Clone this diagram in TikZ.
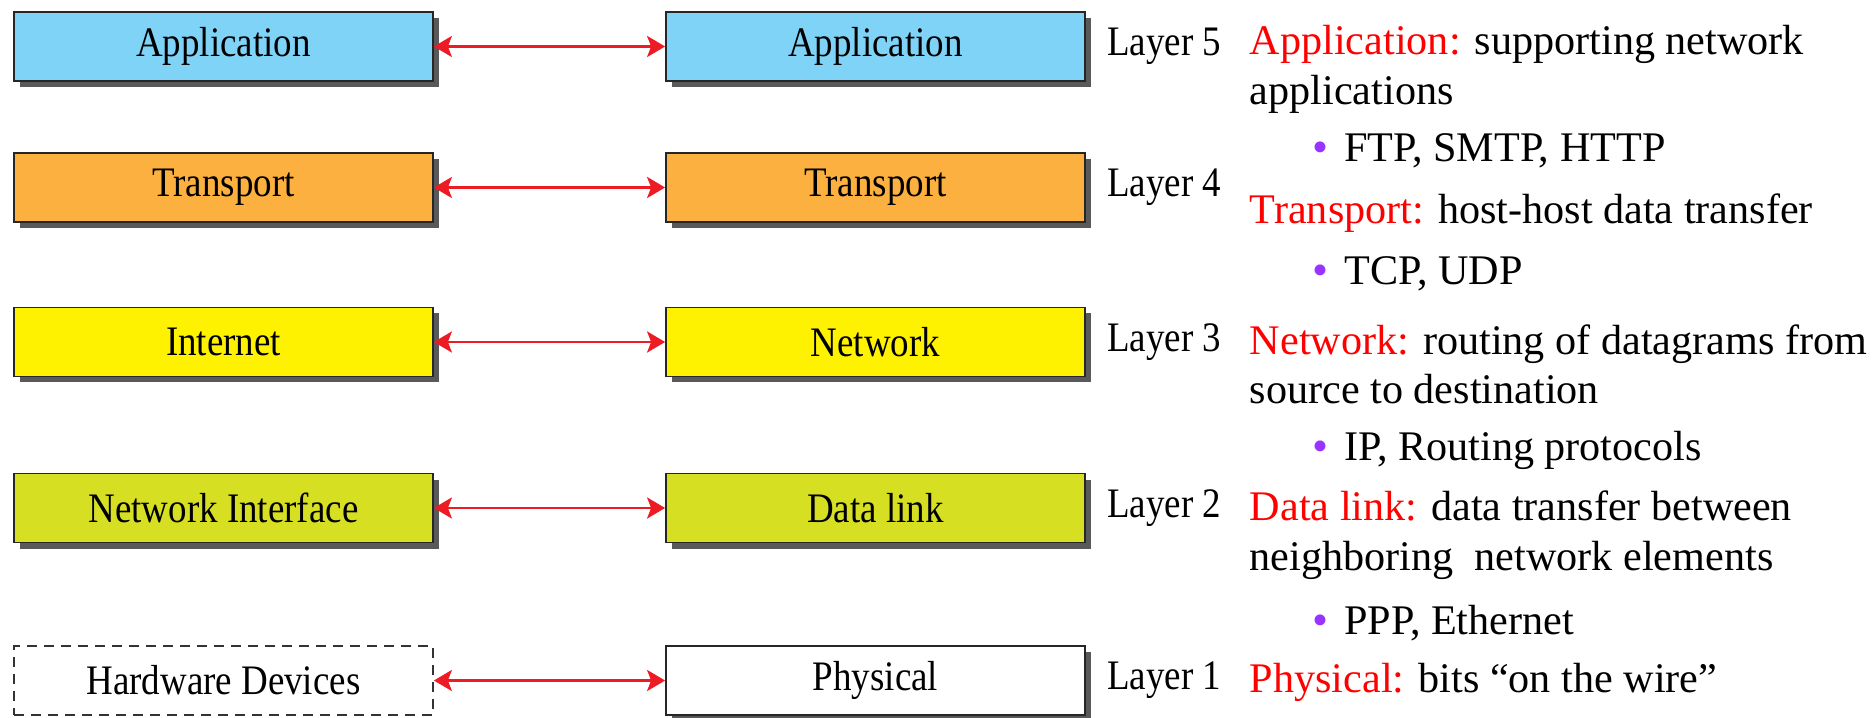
\documentclass[tikz,border=0pt]{standalone}
\usepackage{fontspec}
\setmainfont{Liberation Serif}
\newfontfamily\narrowserif[FakeStretch=0.88]{Liberation Serif}
\usepackage{tikz}
\usetikzlibrary{arrows.meta, positioning, shadows}
\definecolor{appblue}{HTML}{7FD3F7}
\definecolor{transorange}{HTML}{FBB040}
\definecolor{netyellow}{HTML}{FFF200}
\definecolor{linkgreen}{HTML}{D7DF23}
\definecolor{shadowgray}{HTML}{58595B}
\definecolor{arrowred}{HTML}{ED1C24}
\definecolor{bulletviolet}{HTML}{9933FF}
\newcommand{\bul}{\makebox[0.64cm][l]{\raisebox{-0.05ex}{\textcolor{bulletviolet}{\fontsize{26}{26}\selectfont\textbullet}}}}

\begin{document}
\begin{tikzpicture}[>={Stealth[length=0.36cm, width=0.42cm, inset=0.08cm]},
    layerbox/.style={draw=black!85, line width=1pt, minimum width=8.38cm, minimum height=1.38cm, inner sep=0pt,
        font=\narrowserif\fontsize{23.9}{28}\selectfont,
        general shadow={fill=shadowgray, shadow xshift=0.12cm, shadow yshift=-0.12cm}},
    ghostbox/.style={draw=black!80, line width=1pt, dash pattern=on 0.2cm off 0.14cm, minimum width=8.38cm,
        minimum height=1.38cm, inner sep=0pt, font=\narrowserif\fontsize{23.9}{28}\selectfont},
    peer/.style={<->, draw=arrowred, line width=1.6pt},
    layertag/.style={inner sep=0pt, font=\narrowserif\fontsize{23.9}{28}\selectfont},
    desc/.style={anchor=mid west, inner sep=0pt, font=\fontsize{24}{29}\selectfont}]
        \useasboundingbox (0, 0) rectangle (37.5, 14.34);

        % Nodes: TCP/IP model
        \node[layerbox, fill=appblue] (app1) at (4.47, 13.41) {Application};
        \node[layerbox, fill=transorange] (trans1) at (4.47, 10.59) {Transport};
        \node[layerbox, fill=netyellow] (net1) at (4.47, 7.50) {Internet};
        \node[layerbox, fill=linkgreen] (link1) at (4.47, 4.18) {Network Interface};
        \node[ghostbox] (phys1) at (4.47, 0.73) {Hardware Devices};

        % Nodes: five layer model
        \node[layerbox, fill=appblue] (app2) at (17.51, 13.41) {Application};
        \node[layerbox, fill=transorange] (trans2) at (17.51, 10.59) {Transport};
        \node[layerbox, fill=netyellow] (net2) at (17.51, 7.50) {Network};
        \node[layerbox, fill=linkgreen] (link2) at (17.51, 4.18) {Data link};
        \node[layerbox, fill=white] (phys2) at (17.51, 0.73) {Physical};

        % Layer numbers
        \node[layertag, right=0.42cm of app2] (lay5) {Layer 5};
        \node[layertag, right=0.42cm of trans2] (lay4) {Layer 4};
        \node[layertag, right=0.42cm of net2] (lay3) {Layer 3};
        \node[layertag, right=0.42cm of link2] (lay2) {Layer 2};
        \node[layertag, right=0.42cm of phys2] (lay1) {Layer 1};

        % Correspondence
        \draw[peer] (app1) -- (app2);
        \draw[peer] (trans1) -- (trans2);
        \draw[peer] (net1) -- (net2);
        \draw[peer] (link1) -- (link2);
        \draw[peer] (phys1) -- (phys2);

        % Descriptions
        \node[desc] (d5) at (24.99, 13.34) {\textcolor{red}{Application:} supporting network};
        \node[desc] (d5b) at (24.99, 12.34) {applications};
        \node[desc] (p5) at (26.24, 11.19) {\bul FTP, SMTP, HTTP};
        \node[desc] (d4) at (24.99, 9.95) {\textcolor{red}{Transport:} host-host data transfer};
        \node[desc] (p4) at (26.24, 8.73) {\bul TCP, UDP};
        \node[desc] (d3) at (24.99, 7.34) {\textcolor{red}{Network:} routing of datagrams from};
        \node[desc] (d3b) at (24.99, 6.36) {source to destination};
        \node[desc] (p3) at (26.24, 5.21) {\bul IP, Routing protocols};
        \node[desc] (d2) at (24.99, 4.02) {\textcolor{red}{Data link:} data transfer between};
        \node[desc] (d2b) at (24.99, 3.01) {neighboring\ \ network elements};
        \node[desc] (p2) at (26.24, 1.74) {\bul PPP, Ethernet};
        \node[desc] (d1) at (24.99, 0.57) {\textcolor{red}{Physical:} bits “on the wire”};
    \end{tikzpicture}
\end{document}
